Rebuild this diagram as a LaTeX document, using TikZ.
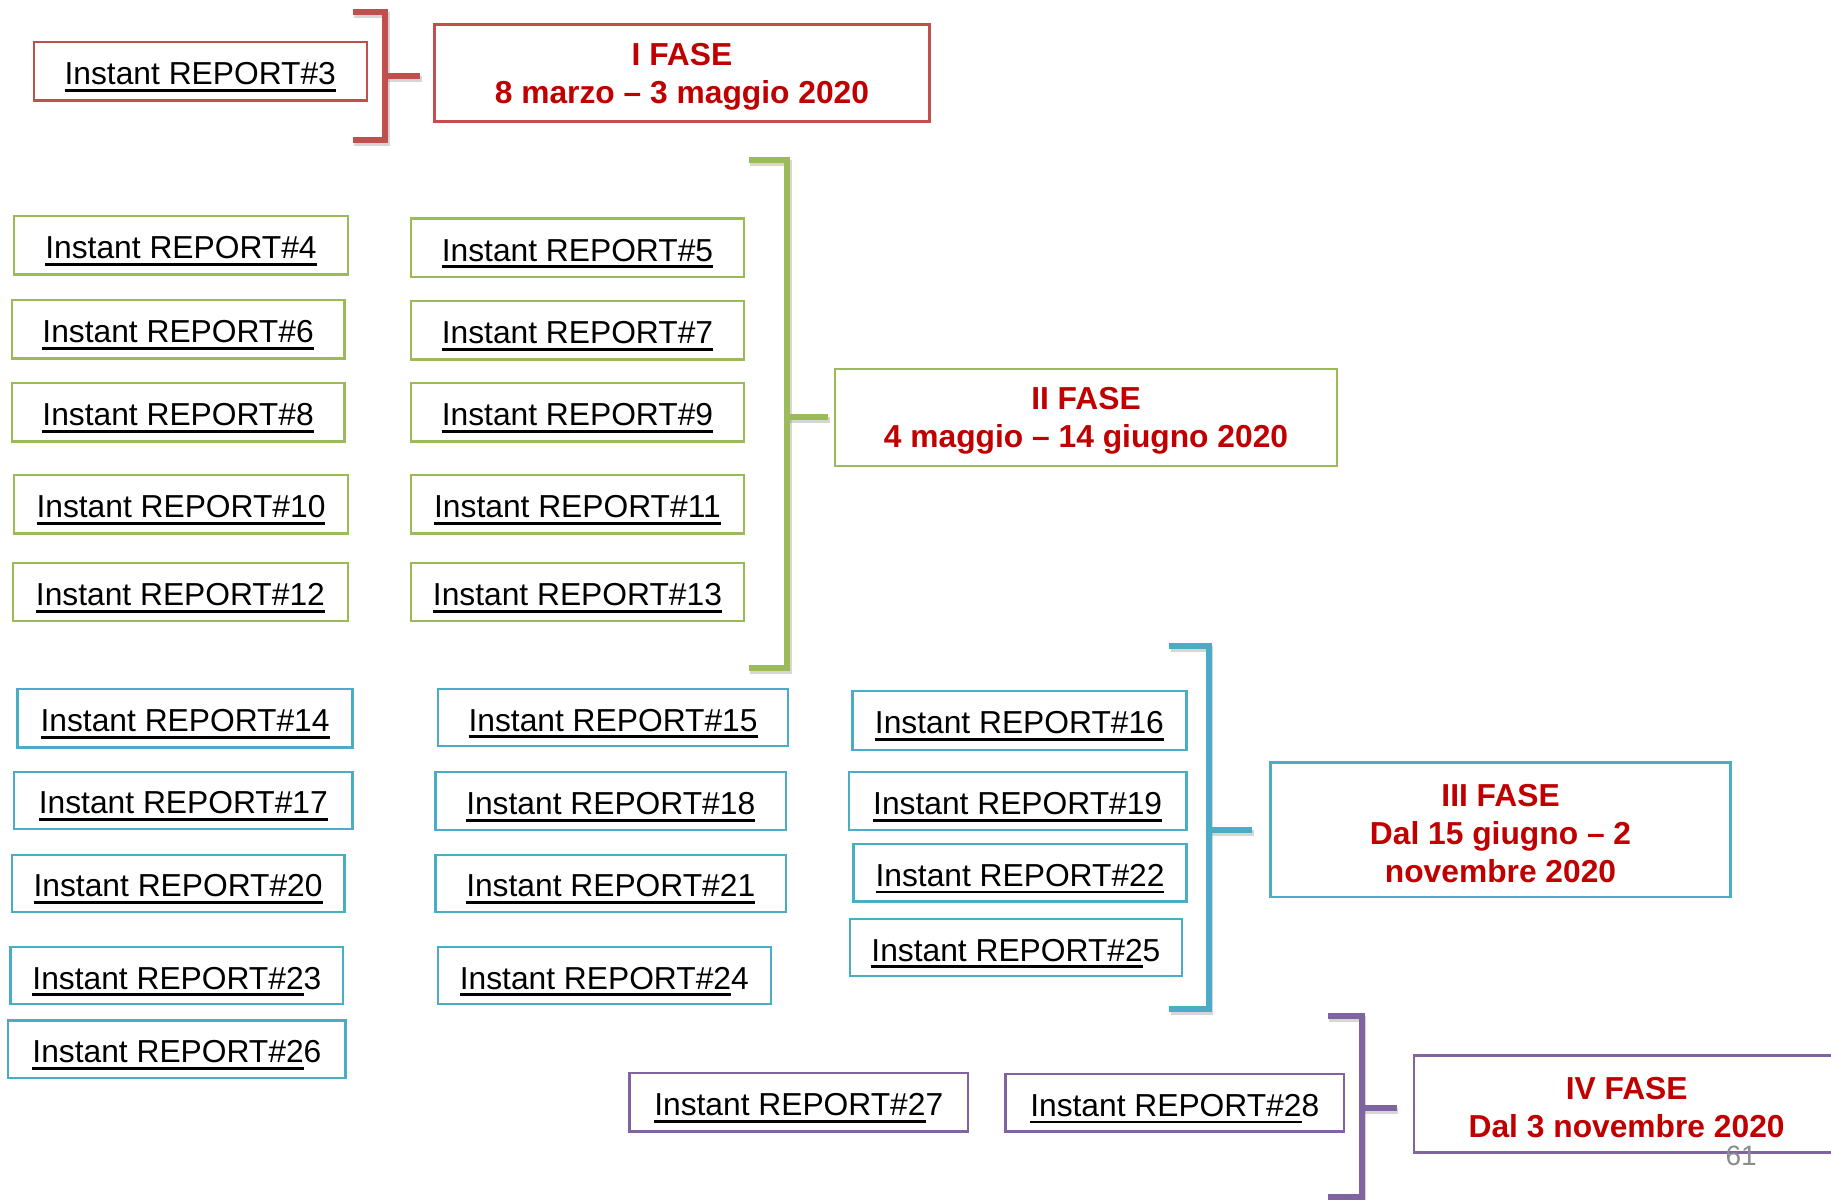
\documentclass[tikz,border=0pt]{standalone}
\usepackage{fontspec}
\setmainfont{Liberation Sans}
\definecolor{cRed}{HTML}{C0504D}
\definecolor{cGreen}{HTML}{9BBB59}
\definecolor{cBlue}{HTML}{4BACC6}
\definecolor{cPurple}{HTML}{8064A2}
\definecolor{faseRed}{HTML}{C00000}
\definecolor{pageGray}{HTML}{8C8C8C}
\newsavebox\ulbox
\newcommand\myul[1]{\sbox\ulbox{#1}\rlap{\smash{\rule[-3.0pt]{\wd\ulbox}{1.2pt}}}\usebox\ulbox}
\newcommand\repfont{\fontsize{13.6}{16}\selectfont}
\newcommand\fasefont{\bfseries\fontsize{13.6}{16.3}\selectfont}
% #1 kind (rep/fase), #2 colour, #3-#6 box corners, #7 text, #8 name
\newcommand\bx[8]{%
  \node[boxframe, draw=#2, minimum width={(#5-#3)*0.5pt}, minimum height={(#6-#4)*0.5pt}] (#8) at ({(#3+#5)/2},{(#4+#6)/2}) {};
  \node[#1txt] (#8t) at (#8.center) {#7};}
\tikzset{
  boxframe/.style={line width=1pt, fill=white, inner sep=0pt},
  reptxt/.style={inner sep=0pt, font=\repfont, text=black, yshift=-1.1pt},
  fasetxt/.style={inner sep=0pt, align=center, text=faseRed, font=\fasefont, yshift=-1.6pt},
  brk/.style={draw=#1, line width=2.6pt, line join=miter, line cap=butt},
  brkshadow/.style={draw=black!45, opacity=0.35, line width=2.6pt, line join=miter, line cap=butt, shift={(1.5,2.5)}},
}
\begin{document}
\begin{tikzpicture}[x=0.5pt, y=-0.5pt]
\useasboundingbox (0,0) rectangle (1568,1027);
\fill[white] (0,0) rectangle (1568,1027);
\clip (0,0) rectangle (1568,1027);

% ---------- I FASE ----------
\bx{rep}{cRed}{29}{36}{314}{86}{\myul{Instant REPORT\#3}}{r3}
\bx{fase}{cRed}{372}{21}{796}{104}{I FASE\\8 marzo -- 3 maggio 2020}{f1}
\draw[brkshadow] (302,10) -- (330,10) -- (330,120) -- (302,120);
\draw[brkshadow] (330,65) -- (360,65);
\draw[brk=cRed] (302,10) -- (330,10) -- (330,120) -- (302,120);
\draw[brk=cRed] (330,65) -- (360,65);

% ---------- II FASE ----------
\bx{rep}{cGreen}{12}{185}{298}{235}{\myul{Instant REPORT\#4}}{r4}
\bx{rep}{cGreen}{352}{187}{637}{237}{\myul{Instant REPORT\#5}}{r5}
\bx{rep}{cGreen}{10}{257}{295}{307}{\myul{Instant REPORT\#6}}{r6}
\bx{rep}{cGreen}{352}{258}{637}{308}{\myul{Instant REPORT\#7}}{r7}
\bx{rep}{cGreen}{10}{328}{295}{378}{\myul{Instant REPORT\#8}}{r8}
\bx{rep}{cGreen}{352}{328}{637}{378}{\myul{Instant REPORT\#9}}{r9}
\bx{rep}{cGreen}{12}{407}{298}{457}{\myul{Instant REPORT\#10}}{r10}
\bx{rep}{cGreen}{352}{407}{637}{457}{\myul{Instant REPORT\#11}}{r11}
\bx{rep}{cGreen}{11}{482}{298}{532}{\myul{Instant REPORT\#12}}{r12}
\bx{rep}{cGreen}{352}{482}{637}{532}{\myul{Instant REPORT\#13}}{r13}
\bx{fase}{cGreen}{715}{316}{1145}{399}{II FASE\\4 maggio -- 14 giugno 2020}{f2}
\draw[brkshadow] (641,137) -- (674,137) -- (674,572) -- (641,572);
\draw[brkshadow] (674,357) -- (709,357);
\draw[brk=cGreen] (641,137) -- (674,137) -- (674,572) -- (641,572);
\draw[brk=cGreen] (674,357) -- (709,357);

% ---------- III FASE ----------
\bx{rep}{cBlue}{15}{590}{302}{640}{\myul{Instant REPORT\#14}}{r14}
\bx{rep}{cBlue}{375}{590}{675}{639}{\myul{Instant REPORT\#15}}{r15}
\bx{rep}{cBlue}{730}{592}{1016}{642}{\myul{Instant REPORT\#16}}{r16}
\bx{rep}{cBlue}{12}{661}{302}{710}{\myul{Instant REPORT\#17}}{r17}
\bx{rep}{cBlue}{373}{661}{673}{711}{\myul{Instant REPORT\#18}}{r18}
\bx{rep}{cBlue}{727}{661}{1016}{711}{\myul{Instant REPORT\#19}}{r19}
\bx{rep}{cBlue}{10}{732}{295}{781}{\myul{Instant REPORT\#20}}{r20}
\bx{rep}{cBlue}{373}{732}{673}{781}{\myul{Instant REPORT\#21}}{r21}
\bx{rep}{cBlue}{731}{723}{1016}{772}{\myul{Instant REPORT\#22}}{r22}
\bx{rep}{cBlue}{9}{811}{294}{860}{\myul{Instant REPORT\#2}3}{r23}
\bx{rep}{cBlue}{375}{811}{660}{860}{\myul{Instant REPORT\#2}4}{r24}
\bx{rep}{cBlue}{728}{787}{1012}{836}{\myul{Instant REPORT\#2}5}{r25}
\bx{rep}{cBlue}{7}{874}{296}{923}{\myul{Instant REPORT\#2}6}{r26}
\bx{fase}{cBlue}{1088}{653}{1482}{768}{III FASE\\Dal 15 giugno -- 2\\novembre 2020}{f3}
\draw[brkshadow] (1001,553) -- (1035,553) -- (1035,864) -- (1001,864);
\draw[brkshadow] (1035,711) -- (1072,711);
\draw[brk=cBlue] (1001,553) -- (1035,553) -- (1035,864) -- (1001,864);
\draw[brk=cBlue] (1035,711) -- (1072,711);

% ---------- IV FASE ----------
\bx{rep}{cPurple}{539}{919}{829}{969}{\myul{Instant REPORT\#2}7}{r27}
\bx{rep}{cPurple}{861}{920}{1151}{969}{\myul{Instant REPORT\#2}8}{r28}
\bx{fase}{cPurple}{1211}{904}{1575}{987}{IV FASE\\Dal 3 novembre 2020}{f4}
\draw[brkshadow] (1137,870) -- (1166,870) -- (1166,1025) -- (1137,1025);
\draw[brkshadow] (1166,949) -- (1196,949);
\draw[brk=cPurple] (1137,870) -- (1166,870) -- (1166,1025) -- (1137,1025);
\draw[brk=cPurple] (1166,949) -- (1196,949);

% page number
\node[text=pageGray, font=\fontsize{12}{14}\selectfont, inner sep=0pt] (pg) at (1491,990) {61};
\end{tikzpicture}
\end{document}
